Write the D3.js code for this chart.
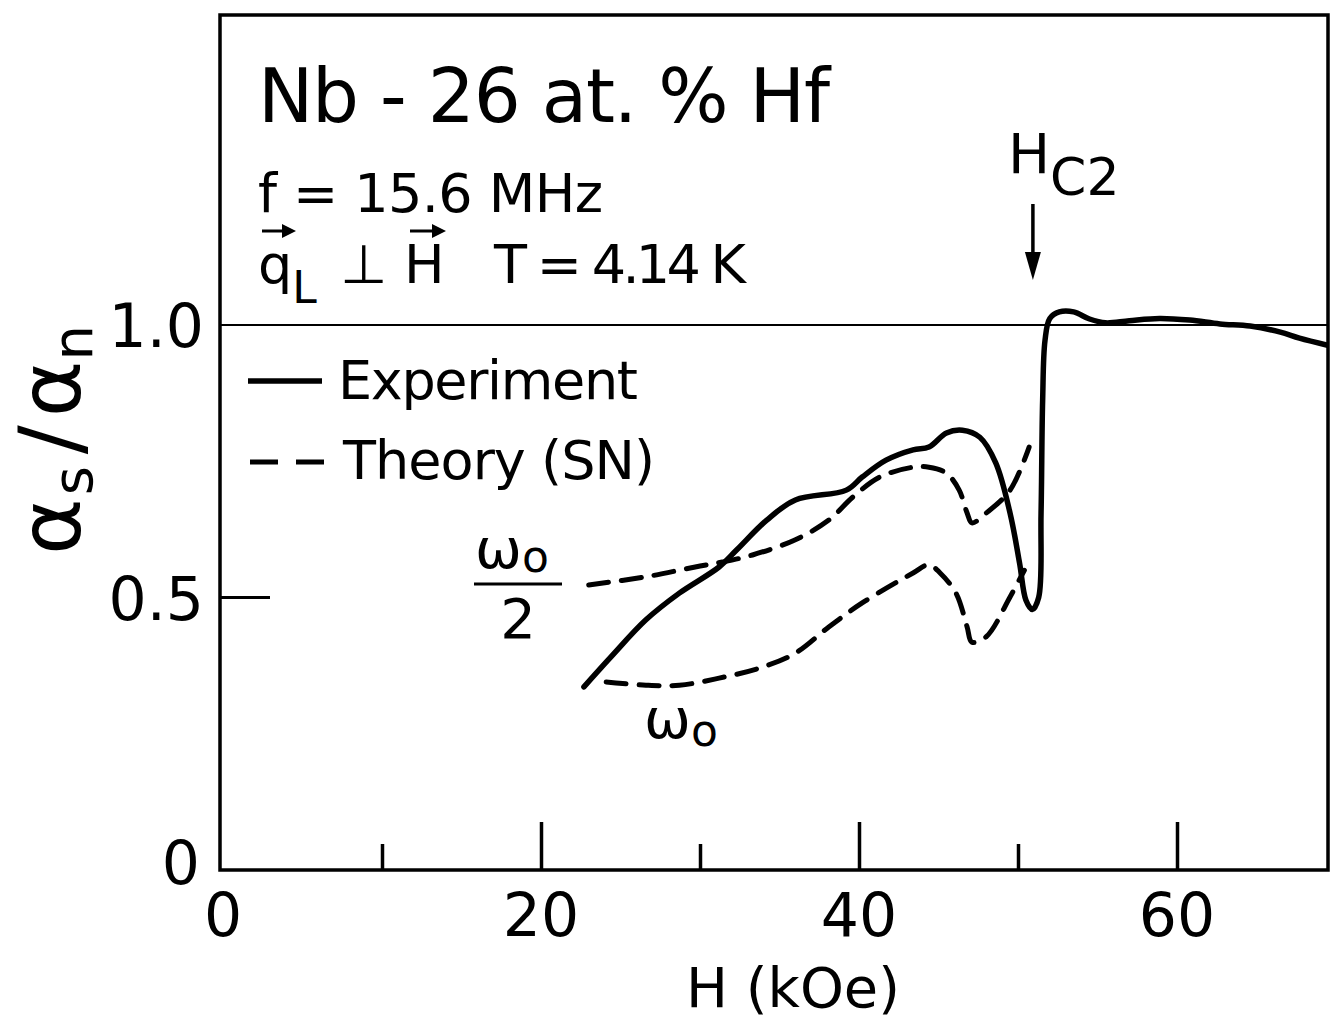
<!DOCTYPE html>
<html>
<head>
<meta charset="utf-8">
<script src="https://cdn.jsdelivr.net/npm/d3@7"></script>
<style>
  body { margin: 0; background: #fff; }
  text { font-family: "DejaVu Sans", sans-serif; fill: #000; }
</style>
</head>
<body>
<svg width="1335" height="1021"></svg>
<script>
// data: H in kOe, alpha_s / alpha_n
var expH = [22.7, 24.4, 26.6, 28.7, 31.2, 32.3, 34.2, 36.0, 39.2, 40.2, 41.7, 43.4, 44.4, 45.5, 46.5, 47.6, 48.6, 49.5, 50.1, 50.5, 50.9, 51.3, 51.45, 51.55, 51.7, 52.0, 52.6, 53.5, 54.5, 55.5, 57.0, 58.9, 60.8, 62.7, 64.6, 66.5, 67.7, 69.6];
var expA = [0.336, 0.391, 0.459, 0.508, 0.556, 0.587, 0.642, 0.679, 0.697, 0.721, 0.752, 0.771, 0.776, 0.802, 0.807, 0.794, 0.747, 0.655, 0.563, 0.495, 0.478, 0.50, 0.655, 0.862, 0.972, 1.012, 1.024, 1.024, 1.011, 1.004, 1.008, 1.012, 1.009, 1.002, 0.998, 0.987, 0.976, 0.962];

var halfH = [23.0, 26.6, 29.7, 31.4, 33.3, 36.0, 38.1, 39.6, 41.3, 43.4, 44.4, 45.5, 46.3, 46.8, 47.1, 48.0, 49.5, 50.7];
var halfA = [0.523, 0.538, 0.556, 0.565, 0.578, 0.606, 0.642, 0.684, 0.721, 0.739, 0.739, 0.728, 0.697, 0.655, 0.637, 0.655, 0.697, 0.776];

var fullH = [24.1, 26.6, 28.7, 31.2, 33.9, 36.0, 38.1, 40.2, 43.4, 44.4, 45.1, 46.1, 46.8, 47.1, 48.0, 49.5, 50.4];
var fullA = [0.345, 0.339, 0.339, 0.352, 0.372, 0.398, 0.446, 0.490, 0.545, 0.560, 0.545, 0.508, 0.446, 0.418, 0.428, 0.501, 0.550];

var xMajor = [20, 40, 60];
var xMinor = [10, 30, 50];
var xLabels = [0, 20, 40, 60];
var yLabels = [0, 0.5, 1.0];
var hc2 = 51.0;

var svg = d3.select('svg');
var plotL = 220, plotR = 1328, plotT = 15, plotB = 870;

var x = d3.scaleLinear().domain([0, 70]).range([223, 1336]);
var y = d3.scaleLinear().domain([0, 1]).range([870, 325]);

svg.append('defs').append('clipPath').attr('id', 'plot')
  .append('rect').attr('x', plotL).attr('y', plotT).attr('width', plotR - plotL).attr('height', plotB - plotT);

// frame
svg.append('rect')
  .attr('x', plotL).attr('y', plotT)
  .attr('width', plotR - plotL).attr('height', plotB - plotT)
  .attr('fill', 'none').attr('stroke', '#000').attr('stroke-width', 3.5);

// x axis ticks (inward)
var gx = svg.append('g').attr('transform', 'translate(0,' + plotB + ')');
gx.call(d3.axisBottom(x).tickValues(xMajor).tickSize(-48).tickFormat(''));
gx.append('g').call(d3.axisBottom(x).tickValues(xMinor).tickSize(-26).tickFormat(''));
gx.selectAll('.domain').remove();
gx.selectAll('line').attr('stroke', '#000').attr('stroke-width', 3.5);

svg.append('g').selectAll('text').data(xLabels).enter()
  .append('text')
  .attr('x', function(d) { return x(d); })
  .attr('y', 936)
  .attr('text-anchor', 'middle')
  .style('font-size', '60px')
  .text(function(d) { return d; });

// y axis labels
var gy = svg.append('g').attr('transform', 'translate(' + plotL + ',0)');
gy.call(d3.axisLeft(y).tickValues(yLabels).tickSize(0).tickPadding(16)
  .tickFormat(function(d) { return d === 0 ? '0' : d3.format('.1f')(d); }));
gy.selectAll('.domain').remove();
gy.selectAll('text').style('font-size', '60px').attr('dy', '0.36em')
  .attr('x', function(d) { return d === 0 ? -20 : -16; })
  .attr('y', function(d) { return d === 0 ? -8 : 0; });

// 0.5 inward tick and 1.0 reference line
svg.append('line')
  .attr('x1', plotL).attr('x2', plotL + 50)
  .attr('y1', y(0.5)).attr('y2', y(0.5))
  .attr('stroke', '#000').attr('stroke-width', 3);
svg.append('line')
  .attr('x1', plotL).attr('x2', plotR)
  .attr('y1', y(1)).attr('y2', y(1))
  .attr('stroke', '#000').attr('stroke-width', 2.2);

// axis titles
svg.append('text')
  .attr('x', 686).attr('y', 1007)
  .style('font-size', '56px')
  .attr('textLength', 214).attr('lengthAdjust', 'spacingAndGlyphs')
  .text('H (kOe)');

var yt = svg.append('text')
  .attr('transform', 'translate(80,440) rotate(-90)')
  .attr('text-anchor', 'middle')
  .style('font-size', '86px');
yt.append('tspan').text('α');
yt.append('tspan').attr('dy', 12).attr('dx', 3).style('font-size', '56px').text('s');
yt.append('tspan').attr('dy', -12).attr('dx', 12).text('/');
yt.append('tspan').attr('dx', 8).text('α');
yt.append('tspan').attr('dy', 12).style('font-size', '56px').text('n');

// curves
var line = d3.line()
  .x(function(d) { return x(d[0]); })
  .y(function(d) { return y(d[1]); })
  .curve(d3.curveCatmullRom.alpha(0.5));

var curves = svg.append('g').attr('clip-path', 'url(#plot)');
curves.append('path')
  .datum(d3.zip(expH, expA))
  .attr('d', line)
  .attr('fill', 'none').attr('stroke', '#000').attr('stroke-width', 5.5)
  .attr('stroke-linejoin', 'round').attr('stroke-linecap', 'round');

[[halfH, halfA], [fullH, fullA]].forEach(function(s) {
  curves.append('path')
    .datum(d3.zip(s[0], s[1]))
    .attr('d', line)
    .attr('fill', 'none').attr('stroke', '#000').attr('stroke-width', 5)
    .attr('stroke-dasharray', '20,13')
    .attr('stroke-linecap', 'round');
});

// annotations
svg.append('text').attr('x', 258).attr('y', 122)
  .style('font-size', '74px')
  .attr('textLength', 572).attr('lengthAdjust', 'spacing')
  .text('Nb - 26 at. % Hf');

svg.append('text').attr('x', 258).attr('y', 212)
  .style('font-size', '54px')
  .attr('textLength', 345).attr('lengthAdjust', 'spacing')
  .text('f = 15.6 MHz');

var l3 = svg.append('text').attr('x', 258).attr('y', 283).style('font-size', '54px');
l3.append('tspan').text('q');
l3.append('tspan').attr('dy', 20).style('font-size', '44px').text('L');
l3.append('tspan').attr('dy', -20).attr('x', 340).text('⊥');
l3.append('tspan').attr('x', 404).text('H');
l3.append('tspan').attr('x', 494).attr('textLength', 252).attr('lengthAdjust', 'spacing').text('T = 4.14 K');

// vector arrows over q and H
var vecs = [[262, 296], [410, 446]];
vecs.forEach(function(v) {
  svg.append('line').attr('x1', v[0]).attr('x2', v[1] - 6).attr('y1', 231).attr('y2', 231)
    .attr('stroke', '#000').attr('stroke-width', 3);
  svg.append('path')
    .attr('d', 'M' + v[1] + ',231 L' + (v[1] - 14) + ',224 L' + (v[1] - 14) + ',238 Z')
    .attr('fill', '#000');
});

// H_c2 label and arrow
var hl = svg.append('text').attr('x', 1008).attr('y', 173).style('font-size', '56px');
hl.append('tspan').text('H');
hl.append('tspan').attr('dy', 22).style('font-size', '52px').text('C2');
svg.append('line')
  .attr('x1', x(hc2) - 1).attr('x2', x(hc2) - 1)
  .attr('y1', 204).attr('y2', 256)
  .attr('stroke', '#000').attr('stroke-width', 3.5);
svg.append('path')
  .attr('d', 'M' + (x(hc2) - 1) + ',280 L' + (x(hc2) - 9) + ',252 L' + (x(hc2) + 7) + ',252 Z')
  .attr('fill', '#000');

// legend
svg.append('line').attr('x1', 248).attr('x2', 322).attr('y1', 381).attr('y2', 381)
  .attr('stroke', '#000').attr('stroke-width', 5.5);
svg.append('text').attr('x', 338).attr('y', 399).style('font-size', '54px')
  .attr('textLength', 300).attr('lengthAdjust', 'spacing').text('Experiment');
svg.append('line').attr('x1', 250).attr('x2', 324).attr('y1', 462).attr('y2', 462)
  .attr('stroke', '#000').attr('stroke-width', 5).attr('stroke-dasharray', '28,18');
svg.append('text').attr('x', 343).attr('y', 479).style('font-size', '54px')
  .attr('textLength', 312).attr('lengthAdjust', 'spacing').text('Theory (SN)');

// omega labels
var w2 = svg.append('text').attr('x', 475).attr('y', 568).style('font-size', '56px');
w2.append('tspan').text('ω');
w2.append('tspan').attr('dy', 4).style('font-size', '44px').text('o');
svg.append('line').attr('x1', 474).attr('x2', 562).attr('y1', 584).attr('y2', 584)
  .attr('stroke', '#000').attr('stroke-width', 3);
svg.append('text').attr('x', 518).attr('y', 638).attr('text-anchor', 'middle')
  .style('font-size', '56px').text('2');

var w1 = svg.append('text').attr('x', 644).attr('y', 738).style('font-size', '56px');
w1.append('tspan').text('ω');
w1.append('tspan').attr('dy', 8).style('font-size', '44px').text('o');
</script>
</body>
</html>
